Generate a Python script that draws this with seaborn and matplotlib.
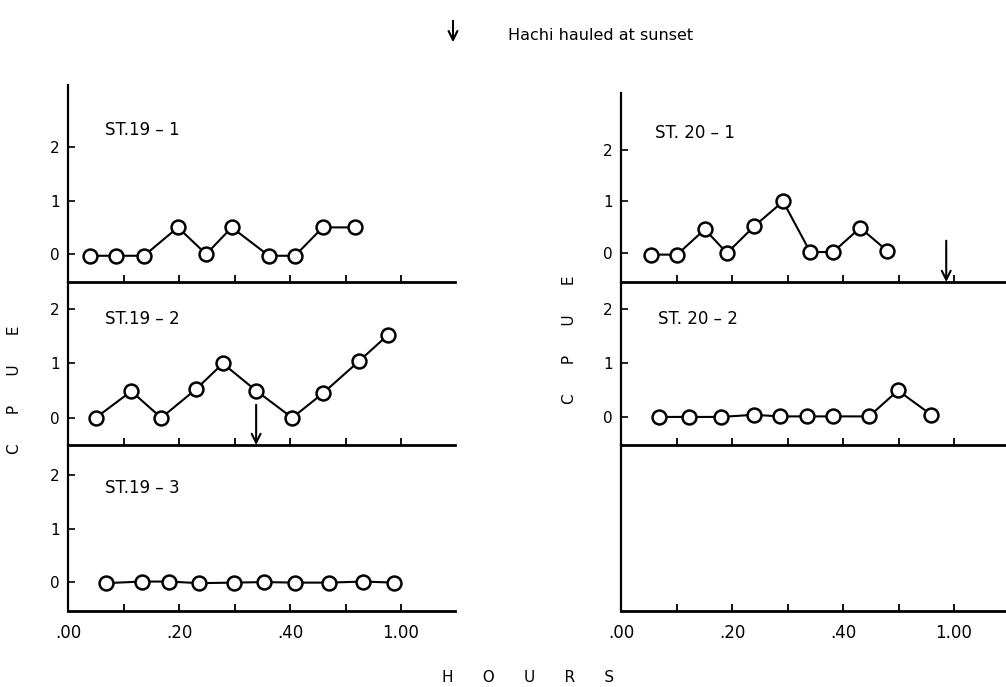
import numpy as np
import pandas as pd
import matplotlib
matplotlib.use("Agg")
import matplotlib.pyplot as plt
import seaborn as sns

# ---- data (time in minutes after start, CPUE) ----
st19_1_min = [4.0, 8.6, 13.7, 19.8, 24.9, 29.5, 36.2, 40.9, 45.9, 51.7]
st19_1_cpue = [-0.03, -0.03, -0.03, 0.5, 0.0, 0.5, -0.03, -0.03, 0.5, 0.5]

st19_2_min = [5.0, 11.4, 16.8, 23.1, 27.9, 33.9, 40.4, 45.9, 52.4, 57.7]
st19_2_cpue = [0.0, 0.49, 0.0, 0.53, 1.0, 0.5, 0.0, 0.45, 1.04, 1.53]

st19_3_min = [6.8, 13.3, 18.2, 23.6, 29.9, 35.3, 40.9, 47.0, 53.2, 58.7]
st19_3_cpue = [-0.02, 0.01, 0.01, -0.02, -0.01, 0.0, -0.01, -0.01, 0.01, -0.01]

st20_1_min = [5.4, 10.1, 15.1, 19.1, 24.0, 29.2, 34.1, 38.2, 43.1, 47.9]
st20_1_cpue = [-0.03, -0.03, 0.46, 0.0, 0.52, 1.0, 0.02, 0.02, 0.49, 0.05]

st20_2_min = [6.9, 12.3, 18.1, 23.9, 28.6, 33.6, 38.2, 44.7, 49.9, 55.9]
st20_2_cpue = [0.0, 0.0, 0.0, 0.04, 0.01, 0.01, 0.01, 0.01, 0.49, 0.04]

station_labels = ["ST.19 – 1", "ST.19 – 2", "ST.19 – 3", "ST. 20 – 1", "ST. 20 – 2"]
hauled_at = {"ST.19 – 2": 33.9, "ST. 20 – 1": 58.6}   # Hachi hauled at sunset

tick_minutes = [0, 10, 20, 30, 40, 50, 60]
tick_labels = [".00", "", ".20", "", ".40", "", "1.00"]
ytick_vals = [0, 1, 2]

series = {
    "ST.19 – 1": (st19_1_min, st19_1_cpue),
    "ST.19 – 2": (st19_2_min, st19_2_cpue),
    "ST.19 – 3": (st19_3_min, st19_3_cpue),
    "ST. 20 – 1": (st20_1_min, st20_1_cpue),
    "ST. 20 – 2": (st20_2_min, st20_2_cpue),
}
df = pd.concat(
    [pd.DataFrame({"station": k, "minutes": v[0], "cpue": v[1]}) for k, v in series.items()],
    ignore_index=True,
)

sns.set_style("ticks")
plt.rcParams["font.family"] = ["DejaVu Sans"]
for key in ["text.color", "xtick.color", "ytick.color", "axes.labelcolor", "axes.edgecolor"]:
    plt.rcParams[key] = "black"

W, H = 1006, 687
fig = plt.figure(figsize=(W / 100, H / 100), dpi=100)


def fr(x0, y_top, x1, y_bot):
    return [x0 / W, 1 - y_bot / H, (x1 - x0) / W, (y_bot - y_top) / H]


# panel layout: (station, rect px, ylim, show y ticks, show x labels, label pos)
layout = [
    ("ST.19 – 1", (68, 85, 455, 282), (-0.52, 3.16), True, False, (0.096, 0.77)),
    ("ST.19 – 2", (68, 282, 455, 445), (-0.50, 2.50), True, False, (0.096, 0.77)),
    ("ST.19 – 3", (68, 445, 455, 611), (-0.54, 2.56), True, True, (0.096, 0.74)),
    ("ST. 20 – 1", (621, 93, 1006, 282), (-0.56, 3.10), True, False, (0.088, 0.79)),
    ("ST. 20 – 2", (621, 282, 1006, 445), (-0.52, 2.50), True, False, (0.096, 0.77)),
    (None, (621, 445, 1006, 611), (-0.52, 2.50), False, True, None),
]

for st, (x0, yt, x1, yb), ylim, yt_on, xl_on, lpos in layout:
    ax = fig.add_axes(fr(x0, yt, x1, yb))
    ax.set_xlim(0, (x1 - x0) / 5.55)
    ax.set_ylim(*ylim)
    ax.patch.set_alpha(0)
    for s in ["top", "right"]:
        ax.spines[s].set_visible(False)
    ax.spines["left"].set_linewidth(1.6)
    ax.spines["bottom"].set_linewidth(2.0)
    ax.set_xticks(tick_minutes)
    ax.set_xticklabels(tick_labels if xl_on else [""] * len(tick_minutes))
    ax.tick_params(axis="x", direction="in", length=5, width=1.3, labelsize=12, pad=9)
    if yt_on:
        ax.set_yticks(ytick_vals)
        ax.set_yticklabels([str(v) for v in ytick_vals])
    else:
        ax.set_yticks([])
    ax.tick_params(axis="y", direction="in", length=5, width=1.2, labelsize=11, pad=6)
    ax.set_xlabel("")
    ax.set_ylabel("")
    if st is None:
        continue
    sub = df[df["station"] == st]
    sns.lineplot(
        data=sub, x="minutes", y="cpue", ax=ax, color="black", linewidth=1.5,
        marker="o", markersize=10, markerfacecolor="white", markeredgecolor="black",
        markeredgewidth=1.8, sort=False, estimator=None,
    )
    ax.set_xlabel("")
    ax.set_ylabel("")
    ax.text(lpos[0], lpos[1], st, transform=ax.transAxes,
            fontsize=12, ha="left", va="center")
    if st in hauled_at:
        ax.annotate("", xy=(hauled_at[st], ylim[0]), xytext=(hauled_at[st], 0.24),
                    arrowprops=dict(arrowstyle="->", lw=1.5, color="black", mutation_scale=16,
                                    shrinkA=0, shrinkB=0))

# top legend
fig.add_artist(matplotlib.patches.FancyArrowPatch(
    (453 / W, 1 - 18 / H), (453 / W, 1 - 45 / H), transform=fig.transFigure,
    arrowstyle="->", lw=1.5, color="black", mutation_scale=16))
fig.text(508 / W, 1 - 35 / H, "Hachi hauled at sunset", fontsize=11.5, ha="left", va="center")

# axis titles
fig.text(15 / W, 1 - 390 / H, "C      P      U      E", rotation=90, fontsize=11, ha="center", va="center")
fig.text(570 / W, 1 - 340 / H, "C      P      U      E", rotation=90, fontsize=11, ha="center", va="center")
fig.text(528 / W, 1 - 677 / H, "H      O      U      R      S", fontsize=11, ha="center", va="center")

fig.savefig("out.png", dpi=100)
